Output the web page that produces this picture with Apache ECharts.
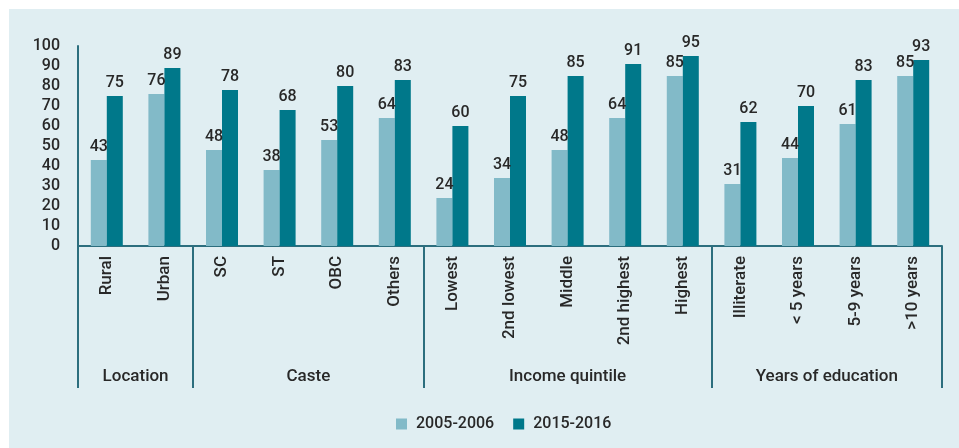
<!DOCTYPE html>
<html>
<head>
<meta charset="utf-8">
<script src="https://cdn.jsdelivr.net/npm/echarts@6/dist/echarts.min.js"></script>
<style>
  html, body { margin: 0; padding: 0; background: #ffffff; }
  #panel { position: absolute; left: 9px; top: 9px; width: 950px; height: 439px; background: #e0eef2; }
  #chart { position: absolute; left: 0; top: 0; width: 959px; height: 448px; }
</style>
</head>
<body>
<div id="panel"></div>
<div id="chart"></div>
<script>
// Categories along the x axis
const categories = ['Rural', 'Urban', 'SC', 'ST', 'OBC', 'Others', 'Lowest', '2nd lowest', 'Middle', '2nd highest', 'Highest', 'Illiterate', '< 5 years', '5-9 years', '>10 years'];
// Values per survey round
const values2005 = [43, 76, 48, 38, 53, 64, 24, 34, 48, 64, 85, 31, 44, 61, 85];
const values2015 = [75, 89, 78, 68, 80, 83, 60, 75, 85, 91, 95, 62, 70, 83, 93];
const seriesNames = ['2005-2006', '2015-2016'];
// Category groups and how many categories each one spans
const groupNames = ['Location', 'Caste', 'Income quintile', 'Years of education'];
const groupSizes = [2, 4, 5, 4];
// Y axis ticks
const yMin = 0, yMax = 100, yStep = 10;

const FONT = 'Roboto';
const WEIGHT = 500;
const TEXT = '#282828';
const AXIS = '#2c6e7e';

// Group axis: half-band positions so that group boundaries and group
// centres both fall on axis points.
const halfCount = categories.length * 2;
const halfPoints = [];
for (let i = 0; i <= halfCount; i++) halfPoints.push(String(i));
const boundaryIdx = {}, centreIdx = {};
let acc = 0;
boundaryIdx[0] = true;
groupSizes.forEach((n, g) => {
  centreIdx[acc + n] = groupNames[g];   // centre in half-band units
  acc += n * 2;
  boundaryIdx[acc] = true;
});

const chart = echarts.init(document.getElementById('chart'));
const labelCfg = { show: true, position: 'top', distance: 5, color: TEXT, fontSize: 16, fontFamily: FONT, fontWeight: WEIGHT };

chart.setOption({
  backgroundColor: 'transparent',
  textStyle: { fontFamily: FONT },
  grid: { left: 78, right: 17, top: 46, bottom: 202, containLabel: false },
  legend: {
    data: seriesNames,
    left: 391, top: 411,
    icon: 'rect', itemWidth: 11, itemHeight: 11, itemGap: 19,
    textStyle: { color: TEXT, fontSize: 16, fontFamily: FONT, fontWeight: WEIGHT, padding: [0, 0, 0, 4] }
  },
  xAxis: [
    {
      type: 'category',
      data: categories,
      position: 'bottom',
      axisLine: { show: true, lineStyle: { color: AXIS, width: 2 } },
      axisTick: { show: false },
      axisLabel: { rotate: 90, margin: 10, color: TEXT, fontSize: 17, fontFamily: FONT, fontWeight: WEIGHT, interval: 0 }
    },
    {
      type: 'category',
      data: halfPoints,
      boundaryGap: false,
      position: 'bottom',
      axisLine: { show: false },
      axisTick: {
        show: true, inside: false, length: 142,
        interval: (idx) => !!boundaryIdx[idx],
        lineStyle: { color: AXIS, width: 2 }
      },
      axisLabel: {
        show: true, margin: 122,
        interval: (idx) => centreIdx[idx] !== undefined,
        formatter: (v, idx) => centreIdx[idx] || '',
        color: TEXT, fontSize: 17, fontFamily: FONT, fontWeight: WEIGHT
      },
      splitLine: { show: false }
    }
  ],
  yAxis: {
    type: 'value',
    min: yMin, max: yMax, interval: yStep,
    axisLine: { show: true, lineStyle: { color: AXIS, width: 2 } },
    axisTick: { show: false },
    splitLine: { show: false },
    axisLabel: { margin: 18, color: TEXT, fontSize: 16, fontFamily: FONT, fontWeight: WEIGHT }
  },
  series: [
    {
      name: seriesNames[0], type: 'bar', data: values2005, xAxisIndex: 0,
      barWidth: 16, barGap: '0%',
      itemStyle: { color: '#82bac8' },
      label: labelCfg
    },
    {
      name: seriesNames[1], type: 'bar', data: values2015, xAxisIndex: 0,
      barWidth: 16, barGap: '0%',
      itemStyle: { color: '#00788a' },
      label: labelCfg
    }
  ]
});
</script>
</body>
</html>
